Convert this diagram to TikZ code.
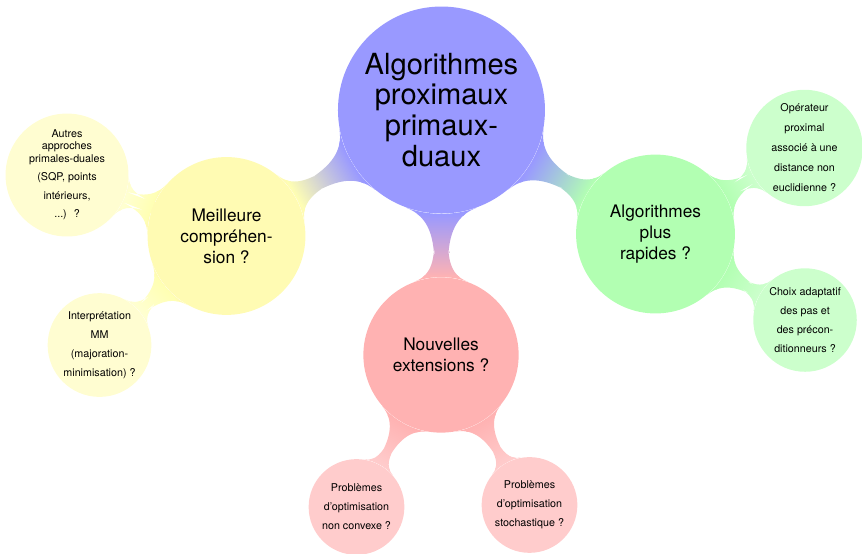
\documentclass[tikz,border=0pt]{standalone}
\usepackage{fontspec}
\setmainfont{TeX Gyre Heros}
\usepackage{tikz}
\usetikzlibrary{mindmap, shapes, positioning, decorations.pathreplacing}
\colorlet{rootblue}{blue!40}
\colorlet{ylwmain}{yellow!30}
\colorlet{ylwsub}{yellow!18}
\colorlet{grnmain}{green!30}
\colorlet{grnsub}{green!20}
\colorlet{redmain}{red!30}
\colorlet{redsub}{red!20}
\tikzset{
	bubble/.style = {circle, align = center, inner sep = 1pt, text = black},
	root bubble/.style = {bubble, minimum size = 4cm, font = \fontsize{16}{17}\selectfont},
	branch bubble/.style = {bubble, minimum size = 3.05cm, font = \fontsize{9.5}{11.5}\selectfont},
	leaf bubble/.style = {bubble, minimum size = 2cm, font = \fontsize{5.9}{10.5}\selectfont}
}

\begin{document}
\begin{tikzpicture}
		\pgfdeclarelayer{background layer}
		\pgfsetlayers{background layer, main}
		\useasboundingbox (0,0) rectangle (16.657,-10.705);
		% centre and the three branches
		\node[root bubble, fill = rootblue] (root) at (8.531,-2.126) {Algorithmes\\proximaux\\primaux-\\duaux};
		\node[branch bubble, fill = ylwmain] (better) at (4.377,-4.560) {Meilleure\\compréhen-\\sion ?};
		\node[branch bubble, fill = grnmain, minimum size = 3.07cm] (faster) at (12.667,-4.522) {Algorithmes\\plus\\rapides ?};
		\node[branch bubble, fill = redmain, minimum size = 3cm] (extend) at (8.522,-6.860) {Nouvelles\\extensions ?};
		% leaves
		\node[leaf bubble, fill = ylwsub, minimum size = 2.36cm, font = \fontsize{5.9}{6.8}\selectfont] (others) at (1.295,-3.382) {Autres\\approches\\primales-duales\\[3.4pt](SQP, points\\[3.4pt]intérieurs,\\[3.4pt]...)~ ?};
		\node[leaf bubble, fill = ylwsub] (mm) at (1.923,-6.667) {Interprétation\\MM\\(majoration-\\minimisation) ?};
		\node[leaf bubble, fill = grnsub, minimum size = 2.25cm, font = \fontsize{5.9}{11}\selectfont] (prox) at (15.546,-2.860) {Opérateur\\proximal\\associé à une\\distance non\\euclidienne ?};
		\node[leaf bubble, fill = grnsub] (steps) at (15.556,-6.184) {Choix adaptatif\\des pas et\\des précon-\\ditionneurs ?};
		\node[leaf bubble, fill = redsub, minimum size = 1.85cm] (nonconv) at (6.889,-9.797) {Problèmes\\d'optimisation\\non convexe ?};
		\node[leaf bubble, fill = redsub, minimum size = 1.85cm] (stoch) at (10.232,-9.758) {Problèmes\\d'optimisation\\stochastique ?};
		\begin{pgfonlayer}{background layer}
		\path (root) to[circle connection bar switch color = from (rootblue) to (ylwmain)] (better);
		\path (root) to[circle connection bar switch color = from (rootblue) to (grnmain)] (faster);
		\path (root) to[circle connection bar switch color = from (rootblue) to (redmain)] (extend);
		\path (better) to[circle connection bar switch color = from (ylwmain) to (ylwsub)] (others);
		\path (better) to[circle connection bar switch color = from (ylwmain) to (ylwsub)] (mm);
		\path (faster) to[circle connection bar switch color = from (grnmain) to (grnsub)] (prox);
		\path (faster) to[circle connection bar switch color = from (grnmain) to (grnsub)] (steps);
		\path (extend) to[circle connection bar switch color = from (redmain) to (redsub)] (nonconv);
		\path (extend) to[circle connection bar switch color = from (redmain) to (redsub)] (stoch);
		\end{pgfonlayer}
	\end{tikzpicture}
\end{document}
